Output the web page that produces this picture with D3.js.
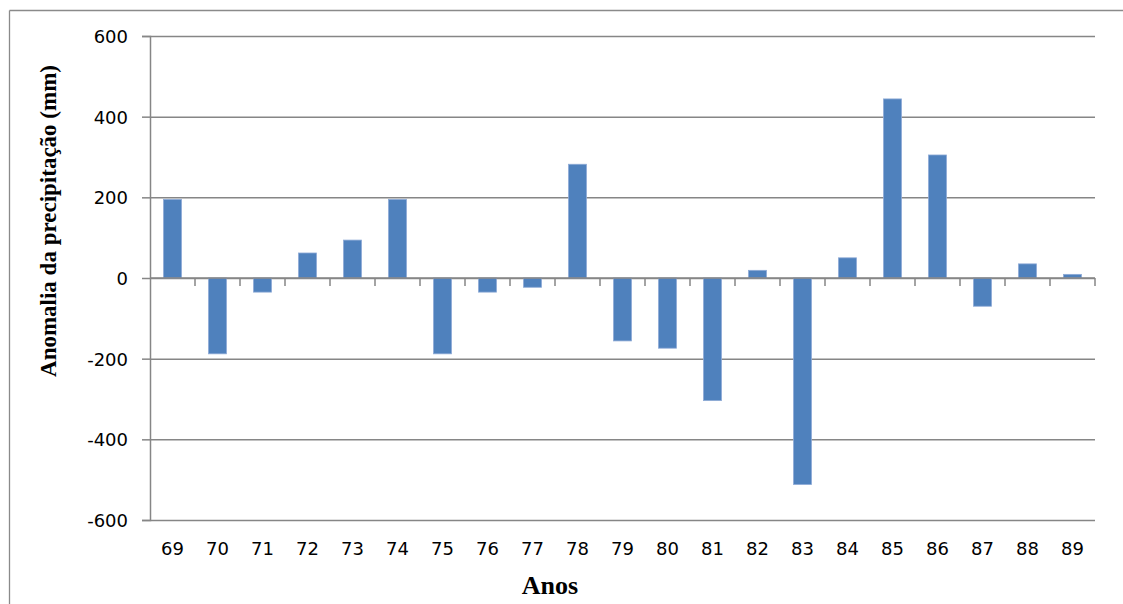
<!DOCTYPE html>
<html>
<head>
<meta charset="utf-8">
<script src="https://cdn.jsdelivr.net/npm/d3@7"></script>
<style>
  html, body { margin: 0; padding: 0; background: #fff; overflow: hidden; }
  svg { display: block; }
</style>
</head>
<body>
<svg id="chart" width="1123" height="604"></svg>
<script>
const years = ["69","70","71","72","73","74","75","76","77","78","79","80","81","82","83","84","85","86","87","88","89"];
const anomalies = [195, -188, -35, 62, 94, 195, -188, -35, -23, 282, -156, -174, -304, 19, -512, 50, 444, 305, -70, 35, 9];
const yTicks = [-600, -400, -200, 0, 200, 400, 600];
const yTitle = "Anomalia da precipitação (mm)";
const xTitle = "Anos";

const svg = d3.select("#chart");
const plotLeft = 150, plotRight = 1095, plotTop = 36, plotBottom = 520;

// outer border (top and left edges visible)
svg.append("line").attr("x1", 9.5).attr("x2", 1123).attr("y1", 10.5).attr("y2", 10.5)
  .attr("stroke", "#8a8a8a").attr("stroke-width", 1.3);
svg.append("line").attr("x1", 9.5).attr("x2", 9.5).attr("y1", 10.5).attr("y2", 604)
  .attr("stroke", "#8a8a8a").attr("stroke-width", 1.3);

const x = d3.scaleBand().domain(years).range([plotLeft, plotRight]).paddingInner(0.6).paddingOuter(0.3);
const xb = d3.scaleBand().domain(years).range([plotLeft, plotRight]);
const y = d3.scaleLinear().domain([-600, 600]).range([plotBottom, plotTop]);

// gridlines + y axis ticks
const yAxis = d3.axisLeft(y).tickValues(yTicks).tickSize(8).tickPadding(14).tickFormat(d => String(d));
const gy = svg.append("g").attr("transform", `translate(${plotLeft},0)`).call(yAxis);
gy.select(".domain").attr("stroke", "#868686").attr("stroke-width", 1.5);
gy.selectAll(".tick line").attr("stroke", "#868686").attr("stroke-width", 1.5);
gy.selectAll(".tick text")
  .attr("font-family", "DejaVu Sans").attr("font-size", 18).attr("fill", "#000")
  .attr("dy", "0.36em");
gy.selectAll(".tick").append("line")
  .attr("x1", 0).attr("x2", plotRight - plotLeft)
  .attr("stroke", "#868686").attr("stroke-width", 1.5);

// bars
svg.append("g").selectAll("rect").data(years).join("rect")
  .attr("x", (d) => x(d))
  .attr("width", x.bandwidth())
  .attr("y", (d, i) => y(Math.max(0, anomalies[i])))
  .attr("height", (d, i) => Math.abs(y(anomalies[i]) - y(0)))
  .attr("fill", "#4f81bd")
  .attr("stroke", "#8eaad6").attr("stroke-width", 0.8);

// zero axis with category boundary ticks
const bounds = years.map(d => xb(d)).slice(1).concat([plotRight]);
const gz = svg.append("g");
gz.selectAll("line.t").data(bounds).join("line")
  .attr("x1", d => d).attr("x2", d => d)
  .attr("y1", y(0)).attr("y2", y(0) + 8)
  .attr("stroke", "#868686").attr("stroke-width", 1.5);
gz.append("line").attr("x1", plotLeft).attr("x2", plotRight)
  .attr("y1", y(0)).attr("y2", y(0))
  .attr("stroke", "#868686").attr("stroke-width", 1.5);

// x labels at bottom
svg.append("g").selectAll("text").data(years).join("text")
  .attr("x", d => xb(d) + xb.bandwidth() / 2)
  .attr("y", 555)
  .attr("text-anchor", "middle")
  .attr("font-family", "DejaVu Sans").attr("font-size", 18).attr("fill", "#000")
  .text(d => d);

// titles
svg.append("text")
  .attr("transform", "translate(56,221) rotate(-90)")
  .attr("text-anchor", "middle")
  .attr("font-family", "Liberation Serif").attr("font-weight", "bold")
  .attr("font-size", 23).attr("fill", "#000")
  .text(yTitle);

svg.append("text")
  .attr("x", 550).attr("y", 594)
  .attr("text-anchor", "middle")
  .attr("font-family", "Liberation Serif").attr("font-weight", "bold")
  .attr("font-size", 26).attr("fill", "#000")
  .text(xTitle);
</script>
</body>
</html>
